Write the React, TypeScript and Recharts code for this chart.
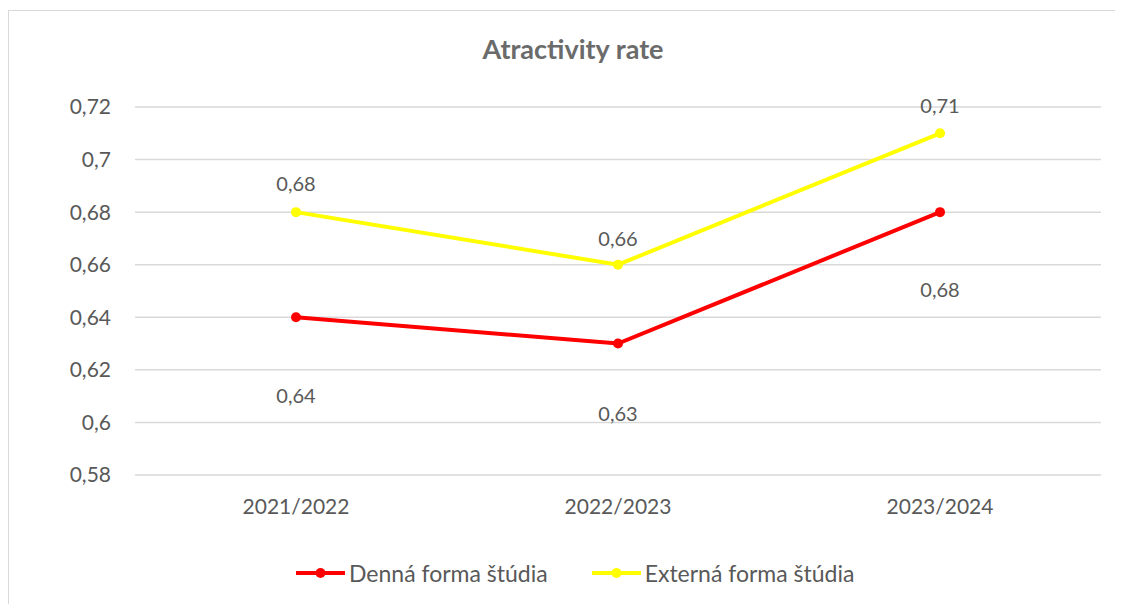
import { LineChart, Line, XAxis, YAxis, CartesianGrid, LabelList } from 'recharts';

const years = ['2021/2022', '2022/2023', '2023/2024'];
const dennaValues = [0.64, 0.63, 0.68];
const externaValues = [0.68, 0.66, 0.71];
const yTicks = [0.58, 0.6, 0.62, 0.64, 0.66, 0.68, 0.7, 0.72];

// label offsets (px) from the point, as Excel placed them
const dennaLabelDy = [78, 69, 77];
const externaLabelDy = [-29, -27, -28];

const FONT = 'Lato, "Open Sans", sans-serif';
const TEXT = '#595959';

const data = years.map((year, i) => ({
  year,
  denna: dennaValues[i],
  externa: externaValues[i]
}));

const fmt = (v: number) => String(Number(v.toFixed(2))).replace('.', ',');

const makeLabel = (offsets: number[]) => (props: any) => {
  const { x, y, value, index } = props;
  return (
    <text
      x={x}
      y={y + offsets[index]}
      textAnchor="middle"
      dominantBaseline="central"
      fill={TEXT}
      fontSize={20}
      fontFamily={FONT}
    >
      {fmt(value)}
    </text>
  );
};

const legendItems = [
  { name: 'Denná forma štúdia', color: '#FF0000' },
  { name: 'Externá forma štúdia', color: '#FFFF00' }
];

export default function App() {
  return (
    <div
      style={{
        position: 'relative',
        marginTop: 2,
        width: 1113,
        height: 600,
        border: '1px solid #d9d9d9',
        boxSizing: 'border-box',
        fontFamily: FONT,
        background: '#fff'
      }}
    >
      <div
        style={{
          position: 'absolute',
          top: 21,
          left: 0,
          width: 1128,
          textAlign: 'center',
          fontSize: 27,
          fontWeight: 'bold',
          color: '#6b6b6b'
        }}
      >
        Atractivity rate
      </div>
      <LineChart
        width={1111}
        height={598}
        data={data}
        margin={{ top: 96, right: 19, bottom: 94, left: 0 }}
      >
        <CartesianGrid vertical={false} stroke="#d9d9d9" strokeWidth={1.5} />
        <XAxis
          dataKey="year"
          scale="band"
          axisLine={false}
          tickLine={false}
          tickSize={0}
          tickMargin={24}
          height={40}
          tick={{ fill: TEXT, fontSize: 21, fontFamily: FONT }}
        />
        <YAxis
          domain={[0.58, 0.72]}
          ticks={yTicks}
          width={126}
          axisLine={false}
          tickLine={false}
          tickSize={0}
          tickMargin={24}
          tickFormatter={fmt}
          tick={{ fill: TEXT, fontSize: 21, fontFamily: FONT }}
        />
        <Line
          dataKey="denna"
          name="Denná forma štúdia"
          stroke="#FF0000"
          strokeWidth={4}
          dot={{ r: 5, fill: '#FF0000', stroke: 'none' }}
          isAnimationActive={false}
        >
          <LabelList dataKey="denna" content={makeLabel(dennaLabelDy)} />
        </Line>
        <Line
          dataKey="externa"
          name="Externá forma štúdia"
          stroke="#FFFF00"
          strokeWidth={4}
          dot={{ r: 5, fill: '#FFFF00', stroke: 'none' }}
          isAnimationActive={false}
        >
          <LabelList dataKey="externa" content={makeLabel(externaLabelDy)} />
        </Line>
      </LineChart>
      <div
        style={{
          position: 'absolute',
          top: 548,
          left: 287,
          display: 'flex',
          alignItems: 'center',
          gap: 44,
          fontSize: 23,
          color: TEXT
        }}
      >
        {legendItems.map((item) => (
          <div key={item.name} style={{ display: 'flex', alignItems: 'center' }}>
            <svg width={49} height={12} style={{ marginRight: 4 }}>
              <line x1={0} y1={6} x2={49} y2={6} stroke={item.color} strokeWidth={4} />
              <circle cx={24.5} cy={6} r={5} fill={item.color} />
            </svg>
            <span>{item.name}</span>
          </div>
        ))}
      </div>
    </div>
  );
}
